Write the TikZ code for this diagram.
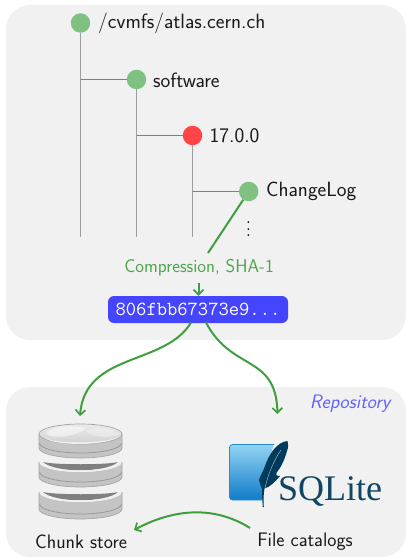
\documentclass[tikz,border=0pt]{standalone}
\usepackage{fontspec}
\newfontfamily\sqlfont{Liberation Serif}
\usetikzlibrary{arrows.meta}
\definecolor{panel}{HTML}{F1F1F1}
\definecolor{nodegreen}{HTML}{80C080}
\definecolor{nodered}{HTML}{FF4545}
\definecolor{hashblue}{HTML}{4545FF}
\definecolor{flow}{HTML}{3F9F3F}
\definecolor{labelgreen}{HTML}{4DA64D}
\definecolor{sqlnavy}{HTML}{0F4662}
\definecolor{featherc}{HTML}{003B5C}
\definecolor{sqltop}{HTML}{93D3F3}
\definecolor{sqlbot}{HTML}{0F7CC8}
\tikzset{
  panelbox/.style={fill=panel,draw=none,rounded corners=24pt},
  dirnode/.style={circle,fill=nodegreen,draw=none,minimum size=19.5pt,inner sep=0pt},
  rednode/.style={dirnode,fill=nodered},
  trunk/.style={draw=black!38,line width=1.2pt},
  branch/.style={draw=black!50,line width=0.8pt},
  dirname/.style={anchor=west,inner sep=0pt,font=\sffamily\fontsize{20.7}{24}\selectfont,text=black!90},
  caption/.style={inner sep=0pt,font=\sffamily\fontsize{19.5}{22}\selectfont,text=black!90},
  flowline/.style={draw=flow,line width=2pt},
  flowarrow/.style={flowline,-{Straight Barb[length=5pt,width=10pt,line width=1.7pt]}},
  hash/.style={fill=hashblue,text=white,rounded corners=6pt,minimum width=180pt,minimum height=27pt,inner sep=0pt,font=\ttfamily\fontsize{20}{22}\selectfont},
  diskedge/.style={draw=black!35,line width=0.7pt}
}
% one disk of the chunk store; #1 = y of the top ellipse centre, #2 = height of the rim
\newcommand{\chunkdisk}[2]{%
  \fill[black!23]
    (39,#1) -- (39,#1+#2) arc[start angle=180,end angle=0,x radius=41.5,y radius=10] -- (122,#1)
    arc[start angle=0,end angle=180,x radius=41.5,y radius=10] -- cycle;
  \draw[diskedge] (39,#1) -- (39,#1+#2) arc[start angle=180,end angle=0,x radius=41.5,y radius=10] -- (122,#1);
  \draw[black!42,line width=0.7pt] (39.5,#1+#2-5) arc[start angle=180,end angle=0,x radius=41,y radius=10];
  \fill[black!50] (43,#1) .. controls (55,#1+11) and (106,#1+11) .. (118,#1)
     .. controls (106,#1+3) and (55,#1+3) .. (43,#1) -- cycle;
  \fill[black!5] (45,#1+4) .. controls (55,#1+10) and (105,#1+10.5) .. (121,#1+2)
     .. controls (105,#1+12.5) and (55,#1+12) .. (45,#1+4) -- cycle;
}
\begin{document}
\begin{tikzpicture}[x=1pt,y=-1pt]
\useasboundingbox (0,0) rectangle (406,559);
% panels
\path[panelbox] (6,5) rectangle (406,340);
\path[panelbox] (6,387) rectangle (406,557);
% tree
\node[dirnode] (root) at (80.5,23) {};
\node[dirnode] (sw) at (136.5,79.5) {};
\node[rednode] (ver) at (192.5,135.5) {};
\node[dirnode] (log) at (248.7,191.5) {};
\coordinate (rootend) at (80.5,236.5);
\coordinate (swend) at (136.5,236.5);
\coordinate (verend) at (192.5,236.5);
\coordinate (rootj) at (80.5,79.5);
\coordinate (swj) at (136.5,135.5);
\coordinate (verj) at (192.5,191.5);
\draw[trunk] (root) -- (rootend);
\draw[trunk] (sw) -- (swend);
\draw[trunk] (ver) -- (verend);
\draw[branch] (rootj) -- (sw);
\draw[branch] (swj) -- (ver);
\draw[branch] (verj) -- (log);
\node[dirname] (t1) at (98,23) {/cvmfs/atlas.cern.ch};
\node[dirname] (t2) at (153,80.5) {software};
\node[dirname] (t3) at (209.5,136) {17.0.0};
\node[dirname] (t4) at (266,191.5) {ChangeLog};
\node[inner sep=0pt] (dots) at (248.5,224) {\scalebox{1.7}{$\vdots$}};
% compression
\coordinate (comptop) at (208,253);
\draw[flowline] (log) -- (comptop);
\node[inner sep=0pt,font=\sffamily\fontsize{18.5}{20}\selectfont,text=labelgreen] (comp) at (199,268) {Compression, SHA-1};
\node[hash] (hash) at (198,309.5) {806fbb67373e9...};
\coordinate (hashin) at (198.5,283);
\draw[flowarrow] (hashin) -- (hash.north -| hashin);
% to stores
\coordinate (storetip) at (80,416);
\coordinate (sqltip) at (277.5,414);
\coordinate (hashl) at (191,322.5);
\coordinate (hashr) at (206,322.5);
\draw[flowarrow] (hashl) .. controls (165,366) and (85,352) .. (storetip);
\draw[flowarrow] (hashr) .. controls (232,372) and (276,354) .. (sqltip);
% chunk store
\chunkdisk{492}{17}
\chunkdisk{462}{15}
\chunkdisk{434}{14}
\shade[top color=black!8,bottom color=black!18,draw=black!35,line width=.7pt] (80.5,434) ellipse[x radius=41.5,y radius=10];
\fill[white,opacity=.5] (46,434) .. controls (50,425) and (80,425) .. (86,429) .. controls (72,437) and (55,439) .. (46,434) -- cycle;
\fill[white,opacity=.3] (86,431) .. controls (95,426) and (110,428) .. (120,434) .. controls (108,439) and (92,437) .. (86,431) -- cycle;
\fill[black!5] (45,438) .. controls (55,444) and (105,444.5) .. (121,436)
     .. controls (105,446.5) and (55,446) .. (45,438) -- cycle;
\node[caption] (chunk) at (81,542) {Chunk store};
% SQLite logo
\shade[top color=sqltop,bottom color=sqlbot,rounded corners=3pt,draw=sqlbot!80!sqltop,line width=.8pt]
  (229.5,444.5) rectangle (278,500);
\fill[panel] (279,443) -- (279,505) -- (262,505) .. controls (263,485) and (270,452) .. (275,443) -- cycle;
\fill[featherc] (287.5,441) .. controls (277,442) and (269,454) .. (265,466)
   .. controls (263,472) and (260,476) .. (259,480)
   .. controls (260,484) and (261,487) .. (262,489)
   .. controls (262,495) and (262.3,501) .. (262.8,507) -- (263.8,507)
   .. controls (263.3,500) and (263.5,494) .. (264.5,488.5)
   .. controls (270,487) and (275,482) .. (280,476)
   .. controls (277,476) and (275,475.5) .. (277,472)
   .. controls (282,466) and (285,458) .. (287,451)
   .. controls (288.5,447) and (288.5,444) .. (287.5,441) -- cycle;
\draw[white!70!featherc,line width=.4pt] (281,450) .. controls (274,460) and (268,474) .. (265,488);
\node[inner sep=0pt,anchor=base west,text=sqlnavy] (sqlite) at (278,500) {\sqlfont\fontsize{36}{38}\selectfont SQLite};
\node[caption] (files) at (305,542) {File catalogs};
\coordinate (filesout) at (250,528);
\coordinate (chunkin) at (134,530);
\draw[flowarrow] (filesout) .. controls (215,506) and (175,508) .. (chunkin);
\node[inner sep=0pt,font=\sffamily\itshape\fontsize{19.5}{22}\selectfont,text=hashblue!85!white] (repo) at (350,404) {Repository};
\end{tikzpicture}
\end{document}
